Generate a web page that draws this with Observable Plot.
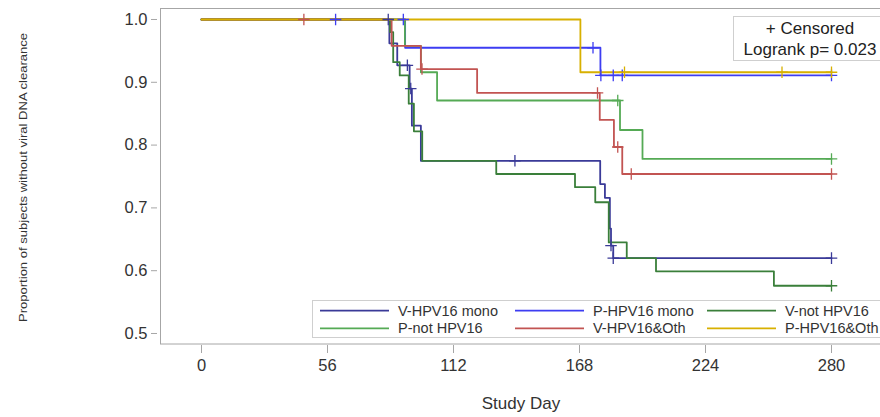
<!DOCTYPE html>
<html>
<head>
<meta charset="utf-8">
<script src="https://cdn.jsdelivr.net/npm/d3@7"></script>
<script src="https://cdn.jsdelivr.net/npm/@observablehq/plot@0.6"></script>
<style>
  html, body { margin: 0; padding: 0; background: white; overflow: hidden; }
  #chart { width: 880px; height: 417px; overflow: hidden; }
</style>
</head>
<body>
<div id="chart"></div>
<script>
// ---- data ----
const groupNames = ["V-HPV16 mono", "P-HPV16 mono", "V-not HPV16", "P-not HPV16", "V-HPV16&Oth", "P-HPV16&Oth"];
const groupColors = ["#3a3a98", "#3d3df2", "#3a7f3a", "#55aa55", "#c25452", "#d8b000"];
const xTicks = [0, 56, 112, 168, 224, 280];
const yTicks = [0.5, 0.6, 0.7, 0.8, 0.9, 1.0];

// V-HPV16 mono
const vMonoDays = [0, 83.5, 87, 92.5, 93.5, 97.5, 177.2, 179.3, 181.5, 182, 183, 280];
const vMonoSurv = [1, 0.962, 0.927, 0.89, 0.831, 0.775, 0.738, 0.716, 0.667, 0.64, 0.62, 0.62];
const vMonoCensDays = [83, 91.5, 93, 139.3, 182, 183, 280];
const vMonoCensSurv = [1, 0.927, 0.89, 0.775, 0.64, 0.62, 0.62];
// P-HPV16 mono
const pMonoDays = [0, 90.5, 177.3, 280];
const pMonoSurv = [1, 0.955, 0.911, 0.911];
const pMonoCensDays = [59.6, 89.7, 174, 177.5, 183, 187, 280];
const pMonoCensSurv = [1, 1, 0.955, 0.911, 0.911, 0.911, 0.911];
// V-not HPV16
const vNotDays = [0, 83.8, 85.2, 88.1, 92.1, 94.4, 98.1, 131, 166, 175, 181, 189, 202, 254.4, 280];
const vNotSurv = [1, 0.98, 0.932, 0.911, 0.866, 0.822, 0.775, 0.754, 0.733, 0.709, 0.645, 0.62, 0.599, 0.576, 0.576];
const vNotCensDays = [280];
const vNotCensSurv = [0.576];
// P-not HPV16
const pNotDays = [0, 90.4, 97.5, 104.7, 186, 196, 280];
const pNotSurv = [1, 0.958, 0.916, 0.871, 0.824, 0.778, 0.778];
const pNotCensDays = [185, 280];
const pNotCensSurv = [0.871, 0.778];
// V-HPV16&Oth
const vOthDays = [0, 84.5, 97.5, 122.5, 177, 183.3, 187, 280];
const vOthSurv = [1, 0.958, 0.921, 0.883, 0.840, 0.797, 0.754, 0.754];
const vOthCensDays = [45.5, 98, 176, 185, 191, 280];
const vOthCensSurv = [1, 0.921, 0.883, 0.797, 0.754, 0.754];
// P-HPV16&Oth
const pOthDays = [0, 168.4, 280];
const pOthSurv = [1, 0.916, 0.916];
const pOthCensDays = [188, 258, 280];
const pOthCensSurv = [0.916, 0.916, 0.916];

const stepSeries = [
  [vMonoDays, vMonoSurv], [pMonoDays, pMonoSurv], [vNotDays, vNotSurv],
  [pNotDays, pNotSurv], [vOthDays, vOthSurv], [pOthDays, pOthSurv]
];
const censSeries = [
  [vMonoCensDays, vMonoCensSurv], [pMonoCensDays, pMonoCensSurv], [vNotCensDays, vNotCensSurv],
  [pNotCensDays, pNotCensSurv], [vOthCensDays, vOthCensSurv], [pOthCensDays, pOthCensSurv]
];
const rows = stepSeries.flatMap(([d, s], i) => d.map((day, j) => ({group: groupNames[i], day, surv: s[j]})));
const cens = censSeries.flatMap(([d, s], i) => d.map((day, j) => ({group: groupNames[i], day, surv: s[j]})));

// ---- layout ----
const W = 886, H = 417;
const FONT = "'Liberation Sans', Arial, sans-serif";
const pxPerDay = 2.25, x0px = 201, mL = 157;

const svg = Plot.plot({
  width: W, height: H,
  marginLeft: mL, marginRight: 0, marginTop: 8, marginBottom: 72,
  style: {fontFamily: FONT, fontSize: "16.5px", background: "white", maxWidth: "none", overflow: "hidden"},
  x: {domain: [(mL - x0px) / pxPerDay, (W - x0px) / pxPerDay]},
  y: {domain: [0.48089, 1.0175]},
  color: {domain: groupNames, range: groupColors},
  marks: [
    Plot.frame({stroke: "#a6a6a6", insetLeft: 3, insetBottom: 1.5}),
    Plot.axisY({ticks: yTicks, tickFormat: d3.format(".1f"), tickSize: 6, tickPadding: 4, stroke: "#a6a6a6", fill: "#333", label: null}),
    Plot.axisX({ticks: xTicks, tickFormat: d3.format("d"), tickSize: 8, tickPadding: 6, stroke: "#a6a6a6", fill: "#333", label: null}),
    Plot.line(rows, {x: "day", y: "surv", z: "group", stroke: "group", curve: "step-after", strokeWidth: 1.8}),
    Plot.dot(cens, {x: "day", y: "surv", stroke: "group", symbol: "plus", r: 3.8, strokeWidth: 1.3})
  ]
});
document.getElementById("chart").appendChild(svg);

const s = d3.select(svg);
// axis titles
s.append("text")
  .attr("transform", "translate(26.5,177.5) rotate(-90)")
  .attr("text-anchor", "middle").attr("font-size", 10).attr("fill", "#333")
  .attr("textLength", 289).attr("lengthAdjust", "spacingAndGlyphs")
  .text("Proportion of subjects without viral DNA clearance");
s.append("text")
  .attr("x", 521).attr("y", 403).attr("dy", "0.35em")
  .attr("text-anchor", "middle").attr("font-size", 17).attr("fill", "#333")
  .text("Study Day");

// censored / logrank box
const cb = s.append("g").attr("font-family", FONT).attr("fill", "#222").attr("font-size", 17);
cb.append("rect").attr("x", 733.5).attr("y", 16.5).attr("width", 160).attr("height", 44)
  .attr("fill", "white").attr("stroke", "#cfcfcf");
cb.append("text").attr("x", 810).attr("y", 28).attr("dy", "0.35em").attr("text-anchor", "middle").text("+ Censored");
cb.append("text").attr("x", 810).attr("y", 49.5).attr("dy", "0.35em").attr("text-anchor", "middle").text("Logrank p= 0.023");

// legend
const lg = s.append("g").attr("font-family", FONT).attr("font-size", 14.5).attr("fill", "#333").attr("text-anchor", "start");
lg.append("rect").attr("x", 312.5).attr("y", 300.5).attr("width", 600).attr("height", 37)
  .attr("fill", "white").attr("stroke", "#cfcfcf");
const colX = [320, 515, 707], rowY = [310.7, 328.3];
groupNames.forEach((name, i) => {
  const cx = colX[i % 3], cy = rowY[Math.floor(i / 3)];
  lg.append("line").attr("x1", cx).attr("x2", cx + 69).attr("y1", cy).attr("y2", cy)
    .attr("stroke", groupColors[i]).attr("stroke-width", 1.8);
  lg.append("text").attr("x", cx + 78).attr("y", cy).attr("dy", "0.35em").attr("text-anchor", "start").text(name);
});
</script>
</body>
</html>
